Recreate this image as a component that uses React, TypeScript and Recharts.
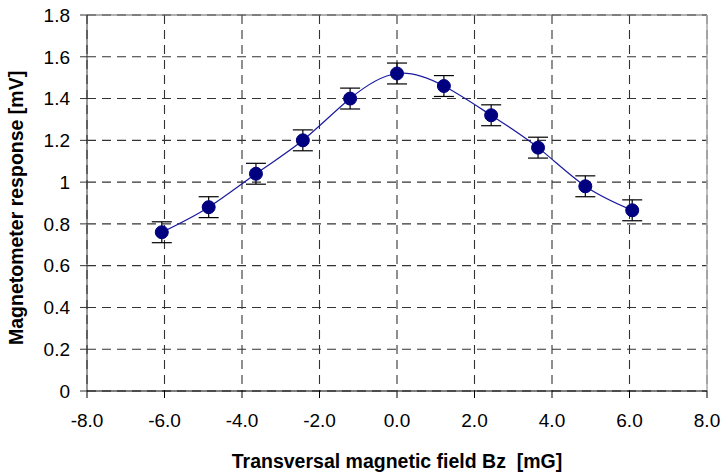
import React from 'react';
import { ComposedChart, Line, XAxis, YAxis, CartesianGrid, ErrorBar, ReferenceLine } from 'recharts';

const fieldBz = [-6.07, -4.86, -3.64, -2.43, -1.21, 0, 1.21, 2.43, 3.64, 4.86, 6.07];
const response = [0.76, 0.88, 1.04, 1.2, 1.4, 1.52, 1.46, 1.32, 1.165, 0.98, 0.865];
const errors = [0.05, 0.05, 0.05, 0.05, 0.05, 0.05, 0.05, 0.05, 0.05, 0.05, 0.05];
const xTicks = [-8, -6, -4, -2, 0, 2, 4, 6, 8];
const yTicks = [0, 0.2, 0.4, 0.6, 0.8, 1, 1.2, 1.4, 1.6, 1.8];

const data = fieldBz.map((x, i) => ({ x, y: response[i], err: errors[i] }));

const FONT = 'Liberation Sans, Arial, sans-serif';

const Dot = (props: any) => {
  const { cx, cy } = props;
  if (cx == null || cy == null) return null;
  return <circle cx={cx} cy={cy} r={6.5} fill="#000080" stroke="#000080" />;
};

const YTitle = () => (
  <text
    x={23}
    y={345}
    transform="rotate(-90, 23, 345)"
    textAnchor="start"
    fill="#000"
    fontSize={19.5}
    fontWeight="bold"
    fontFamily={FONT}
  >
    Magnetometer response [mV]
  </text>
);

const XTitle = () => (
  <text x={397} y={468} textAnchor="middle" fill="#000" fontSize={19.5} fontWeight="bold" fontFamily={FONT}>
    {'Transversal magnetic field Bz\u00A0 [mG]'}
  </text>
);

export default function App() {
  return (
    <div style={{ position: 'absolute', left: 0, top: 0, background: '#fff' }}>
      <ComposedChart width={723} height={474} data={data} margin={{ top: 15, right: 16, bottom: 0, left: 0 }}>
        <CartesianGrid stroke="#333" strokeWidth={1.1} strokeDasharray="9 6" />
        <ReferenceLine y={1.8} stroke="#666" strokeWidth={1.2} />
        <ReferenceLine x={8} stroke="#aaa" strokeWidth={1.5} />
        <XAxis
          dataKey="x"
          type="number"
          domain={[-8, 8]}
          ticks={xTicks}
          tickFormatter={(v: number) => v.toFixed(1)}
          height={83}
          tickSize={7}
          tickMargin={16}
          stroke="#000"
          fontSize={19}
          fontFamily={FONT}
          tick={{ fill: '#000', fontSize: 19, fontFamily: FONT }}
          label={<XTitle />}
        />
        <YAxis
          type="number"
          domain={[0, 1.8]}
          ticks={yTicks}
          width={87}
          tickSize={7}
          tickMargin={10}
          stroke="#333"
          fontSize={19}
          fontFamily={FONT}
          tick={{ fill: '#000', fontSize: 19, fontFamily: FONT }}
          label={<YTitle />}
        />
        <Line
          dataKey="y"
          type="natural"
          stroke="#1a1aa0"
          strokeWidth={1.2}
          dot={<Dot />}
          activeDot={false}
          isAnimationActive={false}
        >
          <ErrorBar dataKey="err" width={10} stroke="#000" strokeWidth={1.2} direction="y" />
        </Line>
      </ComposedChart>
    </div>
  );
}
